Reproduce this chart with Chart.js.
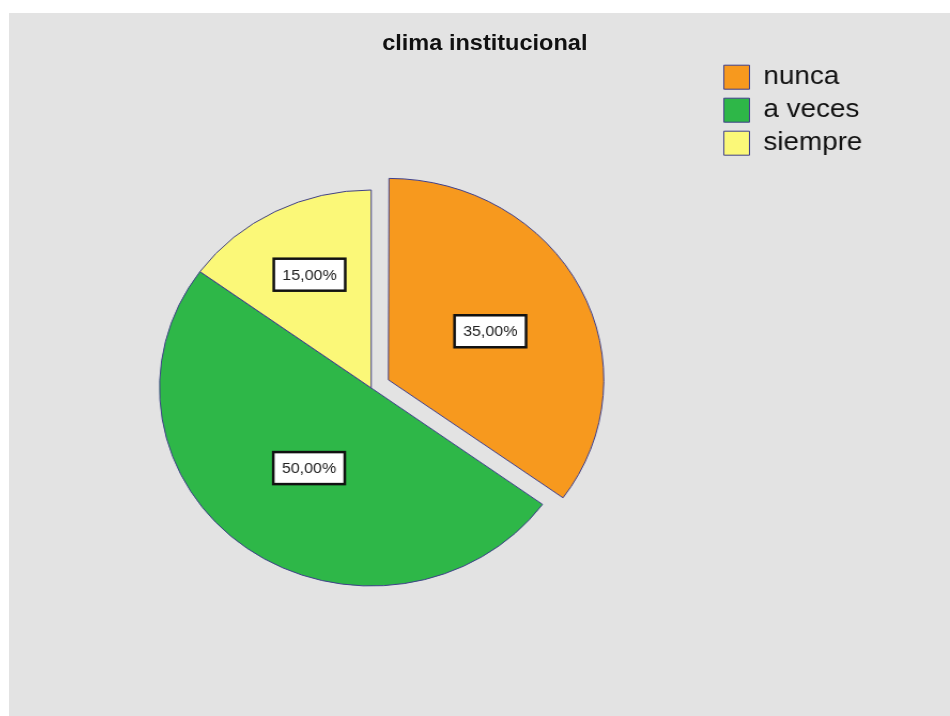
<!DOCTYPE html>
<html lang="es">
<head>
<meta charset="utf-8">
<title>clima institucional</title>
<script src="https://cdn.jsdelivr.net/npm/chart.js@4.4.1/dist/chart.umd.min.js"></script>
<style>
    html, body { margin: 0; padding: 0; background: #fff; overflow: hidden; }
    #panel { position: absolute; left: 9px; top: 13px; right: 0; bottom: 0; background: #e3e3e3; }
    /* the whole chart is drawn slightly wider than tall */
    #stage { position: absolute; left: 0; top: 0; width: 880px; height: 712px; transform: scaleX(1.0693); transform-origin: 0 0; }
    #chart { position: absolute; left: 0; top: 0; }
    #title {
        position: absolute; left: 0; top: 17px; width: 890px;
        text-align: center; color: #111;
        font: bold 22px/26px "Liberation Sans", Arial, sans-serif;
    }
</style>
</head>
<body>
<div id="panel">
    <div id="stage">
        <canvas id="chart" width="880" height="712"></canvas>
        <div id="title">clima institucional</div>
    </div>
</div>

<script>
const categories = ['nunca', 'a veces', 'siempre'];
const percentages = [35, 50, 15];

const sliceColors = ['#f7991e', '#2eb748', '#fbf878'];
const edgeColor = '#3f3f8a';
const fontFamily = '"Liberation Sans", Arial, sans-serif';

function formatPercent(v) {
    return v.toFixed(2).replace('.', ',') + '%';
}

// Boxed percentage label inside each slice
const valueLabels = {
    id: 'valueLabels',
    afterDatasetsDraw(chart) {
        const ctx = chart.ctx;
        const meta = chart.getDatasetMeta(0);
        const data = chart.data.datasets[0].data;

        ctx.save();
        ctx.font = '15px ' + fontFamily;
        ctx.textAlign = 'center';
        ctx.textBaseline = 'middle';

        meta.data.forEach((arc, i) => {
            const {x, y, startAngle, endAngle, outerRadius} =
                arc.getProps(['x', 'y', 'startAngle', 'endAngle', 'outerRadius'], true);
            // arcs are pushed out by a quarter of their offset option
            const shift = (arc.options.offset || 0) / 4;
            const mid = (startAngle + endAngle) / 2;
            const half = (endAngle - startAngle) / 2;
            // sector centroid, but never closer than half the radius
            const centroid = 2 * outerRadius * Math.sin(half) / (3 * half);
            const dist = shift + Math.max(outerRadius / 2, centroid);
            const cx = x + Math.cos(mid) * dist;
            const cy = y + Math.sin(mid) * dist;

            const text = formatPercent(data[i]);
            const w = ctx.measureText(text).width + 16;
            const h = 32;

            ctx.fillStyle = '#ffffff';
            ctx.fillRect(cx - w / 2, cy - h / 2, w, h);
            ctx.lineWidth = 2.5;
            ctx.strokeStyle = '#111111';
            ctx.strokeRect(cx - w / 2, cy - h / 2, w, h);

            ctx.fillStyle = '#222222';
            ctx.fillText(text, cx, cy + 1);
        });
        ctx.restore();
    }
};

new Chart(document.getElementById('chart'), {
    type: 'pie',
    data: {
        labels: categories,
        datasets: [{
            data: percentages,
            backgroundColor: sliceColors,
            borderColor: edgeColor,
            borderWidth: 1,
            offset: [72, 0, 0],
            hoverOffset: 0
        }]
    },
    options: {
        responsive: false,
        animation: false,
        radius: 198,
        layout: {
            padding: { left: 16, right: 72, top: 44.2, bottom: 6.2 }
        },
        plugins: {
            title: { display: false },
            tooltip: { enabled: false },
            legend: {
                display: true,
                position: 'right',
                align: 'start',
                labels: {
                    color: '#111111',
                    font: { family: fontFamily, size: 26 },
                    boxWidth: 24,
                    boxHeight: 24,
                    padding: 7
                }
            }
        }
    },
    plugins: [valueLabels]
});
</script>
</body>
</html>
